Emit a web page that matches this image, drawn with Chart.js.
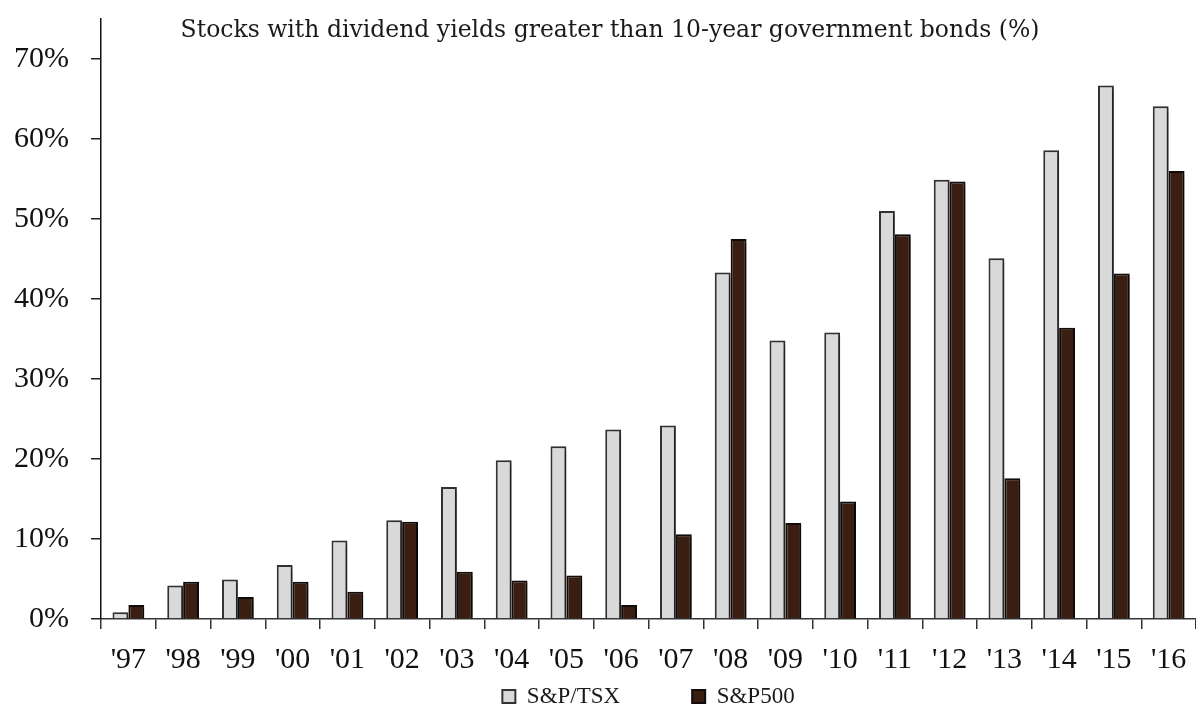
<!DOCTYPE html>
<html>
<head>
<meta charset="utf-8">
<script src="https://cdn.jsdelivr.net/npm/chart.js@4.4.1/dist/chart.umd.min.js"></script>
<style>
  html, body { margin: 0; padding: 0; background: #ffffff; }
  #wrap { width: 1196px; height: 705px; }
</style>
</head>
<body>
<div id="wrap"><canvas id="c" width="1196" height="705"></canvas></div>
<script>
const chartTitle = "Stocks with dividend yields greater than 10-year government bonds (%)";
const categories = ["'97","'98","'99","'00","'01","'02","'03","'04","'05","'06","'07","'08","'09","'10","'11","'12","'13","'14","'15","'16"];
const seriesNames = ["S&P/TSX", "S&P500"];
const tsxValues = [0.85, 4.2, 4.95, 6.75, 9.8, 12.35, 16.5, 19.85, 21.6, 23.7, 24.2, 43.3, 34.8, 35.8, 51.0, 54.9, 45.1, 58.6, 66.7, 64.1];
const sp500Values = [1.75, 4.65, 2.75, 4.65, 3.4, 12.15, 5.9, 4.8, 5.45, 1.75, 10.6, 47.5, 12.0, 14.7, 48.1, 54.7, 17.6, 36.4, 43.2, 56.0];
const yTickValues = [0, 10, 20, 30, 40, 50, 60, 70];

const TICK_FONT = { family: "'Liberation Serif', 'Times New Roman', serif", size: 30 };
const LEGEND_FONT = { family: "'Liberation Serif', 'Times New Roman', serif", size: 23 };
const LEGEND_GAP = 72;
const LEGEND_H = 27;
const LEGEND_TOP_PAD = 7;

const shadowPlugin = {
  id: 'barShadow',
  beforeDatasetsDraw(chart) {
    const ctx = chart.ctx;
    ctx.save();
    ctx.shadowColor = 'rgba(0,0,0,0.35)';
    ctx.shadowBlur = 5;
    ctx.shadowOffsetX = 4;
    ctx.shadowOffsetY = 2;
  },
  afterDatasetsDraw(chart) {
    chart.ctx.restore();
  }
};

const titlePlugin = {
  id: 'floatTitle',
  afterDraw(chart) {
    const ctx = chart.ctx;
    ctx.save();
    ctx.font = "23.5px 'DejaVu Serif', serif";
    ctx.fillStyle = '#1a1a1a';
    ctx.textAlign = 'center';
    ctx.textBaseline = 'alphabetic';
    ctx.fillText(chartTitle, 610, 37);
    ctx.restore();
  }
};

const legendFix = {
  id: 'legendFix',
  beforeLayout(chart) {
    const lg = chart.legend;
    if (!lg || lg._fixed) return;
    lg._fixed = true;
    const fit = lg.fit.bind(lg);
    lg.fit = function () { fit(); this.height = LEGEND_H; };
    const draw = lg.draw.bind(lg);
    lg.draw = function (area) {
      const t = this.top;
      this.top = t - (LEGEND_GAP - LEGEND_TOP_PAD);
      draw(area);
      this.top = t;
    };
  }
};

new Chart(document.getElementById('c'), {
  type: 'bar',
  data: {
    labels: categories,
    datasets: [
      {
        label: seriesNames[0],
        data: tsxValues,
        backgroundColor: '#d9d9d9',
        borderColor: '#333333',
        borderWidth: 2,
        categoryPercentage: 0.58,
        barPercentage: 1.0
      },
      {
        label: seriesNames[1],
        data: sp500Values,
        backgroundColor: '#3b1e12',
        borderColor: '#120d0b',
        borderWidth: 2,
        categoryPercentage: 0.58,
        barPercentage: 1.0
      }
    ]
  },
  options: {
    responsive: false,
    animation: false,
    devicePixelRatio: 1,
    layout: { padding: { top: 19, left: 0, right: 0, bottom: 0 } },
    plugins: {
      title: { display: false },
      tooltip: { enabled: false },
      legend: {
        display: true,
        position: 'bottom',
        fullSize: false,
        labels: {
          font: LEGEND_FONT,
          color: '#1a1a1a',
          boxWidth: 13,
          boxHeight: 13,
          padding: LEGEND_GAP
        }
      }
    },
    scales: {
      x: {
        offset: true,
        grid: {
          offset: true,
          drawOnChartArea: false,
          drawTicks: true,
          tickLength: 10,
          color: '#333333',
          lineWidth: 1.5
        },
        border: { display: true, color: '#333333', width: 1.5 },
        ticks: {
          font: TICK_FONT,
          color: '#111111',
          padding: 13,
          maxRotation: 0,
          autoSkip: false
        },
        afterFit(scale) {
          scale.height = 59;
          scale.paddingLeft = 0;
          scale.paddingRight = 0;
        }
      },
      y: {
        min: 0,
        max: 75,
        grid: {
          drawOnChartArea: false,
          drawTicks: true,
          tickLength: 10,
          color: '#222222',
          lineWidth: 1.5
        },
        border: { display: true, color: '#111111', width: 1.5 },
        afterBuildTicks(scale) {
          scale.ticks = yTickValues.map(v => ({ value: v }));
        },
        ticks: {
          font: TICK_FONT,
          color: '#111111',
          padding: 22,
          callback: (v) => v + '%'
        },
        afterFit(scale) {
          scale.width = 101;
          scale.paddingTop = 0;
          scale.paddingBottom = 0;
        }
      }
    }
  },
  plugins: [shadowPlugin, titlePlugin, legendFix]
});
</script>
</body>
</html>
